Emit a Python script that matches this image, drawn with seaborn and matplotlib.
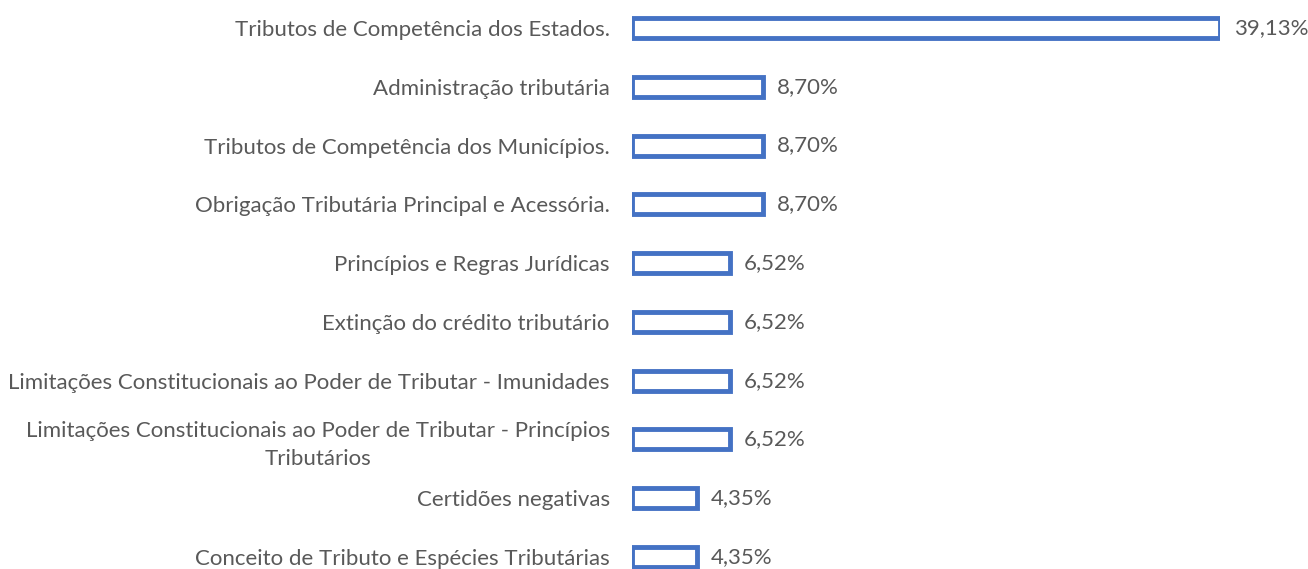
import seaborn as sns
import matplotlib.pyplot as plt

categorias = [
    'Tributos de Competência dos Estados.',
    'Administração tributária',
    'Tributos de Competência dos Municípios.',
    'Obrigação Tributária Principal e Acessória.',
    'Princípios e Regras Jurídicas',
    'Extinção do crédito tributário',
    'Limitações Constitucionais ao Poder de Tributar - Imunidades',
    'Limitações Constitucionais ao Poder de Tributar - Princípios\nTributários',
    'Certidões negativas',
    'Conceito de Tributo e Espécies Tributárias',
]
percentuais = [39.13, 8.70, 8.70, 8.70, 6.52, 6.52, 6.52, 6.52, 4.35, 4.35]

sns.set_style('white')
plt.rcParams['font.family'] = ['Lato', 'DejaVu Sans']

fig = plt.figure(figsize=(13.08, 5.69), dpi=100)
ax = fig.add_axes([632 / 1308, 0, (1220 - 632) / 1308, 1])

sns.barplot(x=percentuais, y=categorias, orient='h', color='white', saturation=1,
            edgecolor='#4472C4', linewidth=3.5, width=0.34, ax=ax)

ax.set_xlim(0, 39.13)
ax.set_ylim(9 + 12 / 58.8, -28 / 58.8)
for s in ax.spines.values():
    s.set_visible(False)
ax.set_xticks([])
ax.tick_params(axis='y', length=0, pad=16, labelsize=16, labelcolor='#595959')
for lab in ax.get_yticklabels():
    lab.set_multialignment('center')
    lab.set_linespacing(1.5)

rotulos = [f'{v:.2f}%'.replace('.', ',') for v in percentuais]
ax.bar_label(ax.containers[0], labels=rotulos, padding=10, fontsize=16,
             color='#595959', clip_on=False)
ax.set_xlabel('')
ax.set_ylabel('')

plt.savefig('out.png', dpi=100)
